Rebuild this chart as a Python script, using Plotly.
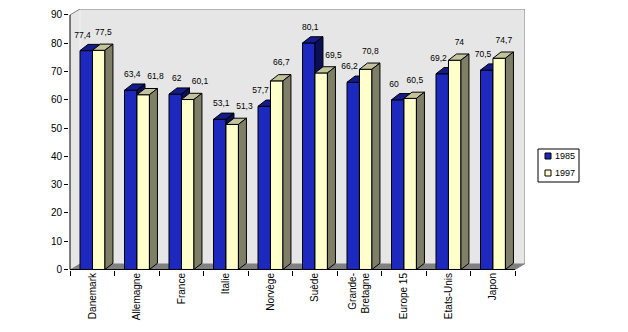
import plotly.graph_objects as go

categories = ["Danemark", "Allemagne", "France", "Italie", "Norvège", "Suède",
              "Grande-<br>Bretagne", "Europe 15", "Etats-Unis", "Japon"]
series_names = ["1985", "1997"]
values_1985 = [77.4, 63.4, 62, 53.1, 57.7, 80.1, 66.2, 60, 69.2, 70.5]
values_1997 = [77.5, 61.8, 60.1, 51.3, 66.7, 69.5, 70.8, 60.5, 74, 74.7]
y_ticks = [0, 10, 20, 30, 40, 50, 60, 70, 80, 90]

FONT = "Liberation Sans, Arial, sans-serif"
n = len(categories)
idx = list(range(n))
ymax = y_ticks[-1]

# plot-area geometry (pixels)
W, H = 628, 332
ML, MR, MT, MB = 69, 103, 9, 62
PW, PH = W - ML - MR, H - MT - MB

# 3D geometry (in axis units)
WDX, WDY = 0.2247, 2.11      # wall depth
BDX, BDY = 0.18, 2.2         # bar depth
BW = 0.28                    # bar width
OFFS = [-0.275, 0.005]       # bar offsets within category
XR = [-0.5225, n - 0.5 + WDX]
YR = [-0.18, ymax + WDY]

styles = [
    dict(front="#1C28BE", top="#141C8C", side="#0A1058"),
    dict(front="#FFFFCC", top="#C2C29C", side="#7F7F68"),
]


def fmt(v):
    return ("%g" % v).replace(".", ",")


def polys(vals, off, kind):
    xs, ys = [], []
    for i, v in zip(idx, vals):
        xl = i + off
        xr = xl + BW
        if kind == "top":
            px = [xl, xr, xr + BDX, xl + BDX, xl]
            py = [v, v, v + BDY, v + BDY, v]
        else:
            px = [xr, xr, xr + BDX, xr + BDX, xr]
            py = [0, v, v + BDY, BDY, 0]
        xs += px + [None]
        ys += py + [None]
    return xs, ys


fig = go.Figure()
all_vals = [values_1985, values_1997]
axes = [("x", "y"), ("x2", "y2")]
for vals, name, st, off, (xa, ya) in zip(all_vals, series_names, styles, OFFS, axes):
    fig.add_trace(go.Bar(
        x=idx, y=vals, name=name, width=BW, offset=off,
        marker=dict(color=st["front"], line=dict(color="black", width=1)),
        xaxis=xa, yaxis=ya, showlegend=False,
    ))
    for kind in ("top", "side"):
        px, py = polys(vals, off, kind)
        fig.add_trace(go.Scatter(
            x=px, y=py, mode="lines", fill="toself",
            fillcolor=st[kind], line=dict(color="black", width=1),
            xaxis=xa, yaxis=ya, showlegend=False, hoverinfo="skip",
        ))

# data labels (placement avoids the neighbouring bar)
lab_x = [[], []]
for a, b in zip(values_1985, values_1997):
    if a > b:
        lab_x[0].append(-0.10)
        lab_x[1].append(0.42)
    else:
        lab_x[0].append(-0.22)
        lab_x[1].append(0.25)
lab_dy = [5.3, 6.2]
for vals, dxs, dy in zip(all_vals, lab_x, lab_dy):
    fig.add_trace(go.Scatter(
        x=[i + d for i, d in zip(idx, dxs)], y=[v + dy for v in vals],
        text=[fmt(v) for v in vals], mode="text",
        textposition="middle center", textfont=dict(family=FONT, size=8.5, color="black"),
        xaxis="x2", yaxis="y2", showlegend=False, cliponaxis=False, hoverinfo="skip",
    ))

# walls, floor and frame
x0, x1 = -0.5, n - 0.5
shapes = [
    dict(type="path", layer="below", xref="x", yref="y", line=dict(width=0),
         fillcolor="#E6E6E6",
         path=f"M{x0},0 L{x0},{ymax} L{x0+WDX},{ymax+WDY} L{x1+WDX},{ymax+WDY} L{x1+WDX},{WDY} L{x1},0 Z"),
    dict(type="path", layer="below", xref="x", yref="y", line=dict(width=0),
         fillcolor="#808080",
         path=f"M{x0},0 L{x1},0 L{x1+WDX},{WDY} L{x0+WDX},{WDY} Z"),
    dict(type="path", layer="below", xref="x", yref="y", line=dict(color="#F2F2F2", width=1),
         path=f"M{x0+WDX},{WDY} L{x0+WDX},{ymax+WDY}"),
    dict(type="path", layer="below", xref="x", yref="y", line=dict(color="#808080", width=1),
         path=f"M{x0},{ymax} L{x0+WDX},{ymax+WDY} L{x1+WDX},{ymax+WDY} L{x1+WDX},{WDY} L{x1},0"),
    dict(type="line", layer="above", xref="x", yref="y", x0=x0, x1=x0, y0=0, y1=ymax,
         line=dict(color="black", width=1)),
    dict(type="line", layer="above", xref="x", yref="y", x0=x0, x1=x1, y0=0, y1=0,
         line=dict(color="black", width=1)),
]

# legend box (drawn in paper coordinates)
def px2paper_x(p):
    return (p - ML) / PW


def px2paper_y(p):
    return (H - MB - p) / PH


annotations = []
shapes.append(dict(type="rect", xref="paper", yref="paper",
                   x0=px2paper_x(538), x1=px2paper_x(579),
                   y0=px2paper_y(182), y1=px2paper_y(149),
                   line=dict(color="black", width=1), fillcolor="white"))
for k, (name, st) in enumerate(zip(series_names, styles)):
    cy = 156 + 17 * k
    shapes.append(dict(type="rect", xref="paper", yref="paper",
                       x0=px2paper_x(545), x1=px2paper_x(551),
                       y0=px2paper_y(cy + 3), y1=px2paper_y(cy - 3),
                       line=dict(color="black", width=1), fillcolor=st["front"]))
    annotations.append(dict(xref="paper", yref="paper", x=px2paper_x(553),
                            y=px2paper_y(cy), xanchor="left", yanchor="middle",
                            text=name, showarrow=False,
                            font=dict(family=FONT, size=9, color="black")))

fig.update_layout(
    width=W, height=H,
    margin=dict(l=ML, r=MR, t=MT, b=MB, pad=0),
    paper_bgcolor="white", plot_bgcolor="white",
    font=dict(family=FONT, size=10, color="black"),
    barmode="overlay",
    shapes=shapes,
    annotations=annotations,
    showlegend=False,
    xaxis=dict(range=XR, tickmode="array", tickvals=idx, ticktext=categories,
               tickangle=-90, ticks="", showgrid=False, zeroline=False, showline=False,
               tickfont=dict(family=FONT, size=10),
               minor=dict(tickmode="array", tickvals=[i - 0.5 for i in range(n + 1)],
                          ticks="outside", ticklen=5, tickcolor="black", showgrid=False)),
    yaxis=dict(range=YR, tickmode="array", tickvals=y_ticks, ticks="outside", ticklen=4,
               tickcolor="black", showgrid=False, zeroline=False, showline=False,
               tickfont=dict(family=FONT, size=10)),
    xaxis2=dict(range=XR, overlaying="x", visible=False),
    yaxis2=dict(range=YR, overlaying="y", visible=False),
)

fig.write_html("out.html")
